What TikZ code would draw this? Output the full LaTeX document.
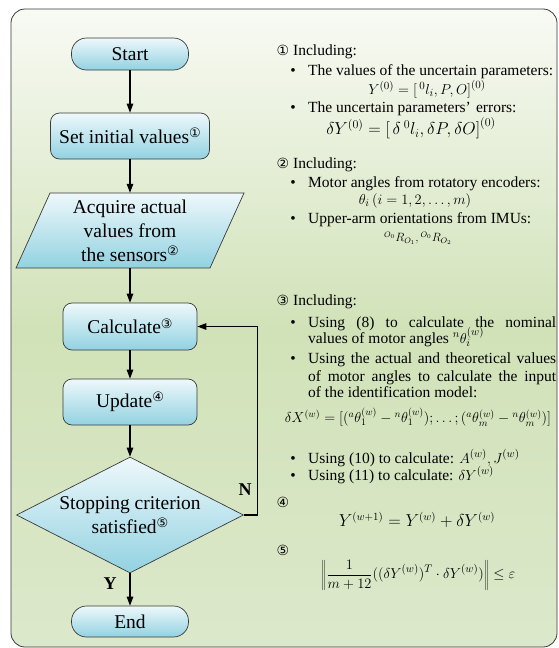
\documentclass[tikz,border=0pt]{standalone}
\usepackage{fontspec}
\setmainfont{Liberation Serif}
\newfontfamily\cfont{DejaVu Sans}
\usetikzlibrary{shapes.geometric,arrows.meta}
\definecolor{bgtop}{HTML}{F8FAF4}
\definecolor{bgmid}{HTML}{D1E2B8}
\definecolor{bgbot}{HTML}{DCE8CB}
\definecolor{ctop}{HTML}{EEF8FB}
\definecolor{cbot}{HTML}{92D2E1}
\definecolor{bordc}{HTML}{3A3A3A}
\newcommand\cnum[1]{\raisebox{5.5pt}{\cfont\fontsize{13}{13}\selectfont #1}}
\newcommand\mainfs{\fontsize{19.5}{24}\selectfont}
\newcommand\rfs{\fontsize{15.5}{18}\selectfont}
\begin{document}
\begin{tikzpicture}[x=1pt,y=-1pt,
  box/.style={draw=bordc, line width=0.7pt, top color=ctop, bottom color=cbot, font=\mainfs, align=center, inner sep=0pt},
  shp/.style={draw=bordc, line width=0.7pt, top color=ctop, bottom color=cbot},
  arr/.style={-{Triangle[length=9pt,width=6.5pt]}, line width=1.2pt},
  txt/.style={anchor=base west, inner sep=0pt, font=\rfs},
  bul/.style={anchor=base, inner sep=0pt, font=\rfs},
  cn/.style={anchor=center, inner sep=0pt, font=\cfont\fontsize{14}{14}\selectfont},
  eq/.style={anchor=center, inner sep=0pt},
  lbl/.style={inner sep=0pt, font=\bfseries\fontsize{18}{18}\selectfont},
]
\useasboundingbox (0,0) rectangle (558,648);
\shade[draw=bordc, line width=0.8pt, rounded corners=14pt, top color=bgtop, bottom color=bgbot, middle color=bgmid] (11,9) rectangle (557,647);

% flowchart
\node[box, rounded corners=15pt, minimum width=117pt, minimum height=32pt] (start) at (130,54) {Start};
\node[box, rounded corners=9pt, minimum width=159pt, minimum height=46pt] (init) at (130,136) {Set initial values\cnum{①}};
\shade[shp] (16,268) -- (210,268) -- (244,193) -- (50,193) -- cycle;
\node[font=\mainfs, align=center, inner sep=0pt, minimum width=150pt, minimum height=75pt] (acq) at (130,230.5) {Acquire actual\\values from\\the sensors\cnum{②}};
\node[box, rounded corners=9pt, minimum width=134pt, minimum height=47pt] (calc) at (130,326.5) {Calculate\cnum{③}};
\node[box, rounded corners=9pt, minimum width=134pt, minimum height=46pt] (upd) at (130,402) {Update\cnum{④}};
\node[box, diamond, minimum width=227pt, minimum height=116pt,
  label={[font=\mainfs, align=center, inner sep=0pt]center:Stopping criterion\\satisfied\cnum{⑤}}] (dec) at (130,515) {};
\node[box, rounded corners=15pt, minimum width=117pt, minimum height=31pt] (end) at (130,621.5) {End};

\draw[arr] (start) -- (init);
\draw[arr] (init) -- (acq);
\draw[arr] (acq) -- (calc);
\draw[arr] (calc) -- (upd);
\draw[arr] (upd) -- (dec);
\draw[arr] (dec) -- (end);
\draw[arr] (dec.east) -- ++(14,0) |- (calc.east);
\node[lbl] (ylab) at (110,584) {Y};
\node[lbl] (nlab) at (245,490) {N};

% right side notes
\node[cn] (c1) at (283,50) {①};
\node[txt] (i1) at (293,55) {Including:};
\node[bul] (b11) at (293,75) {\textbullet};
\node[txt] (t11) at (308,75) {The values of the uncertain parameters:};
\node[eq, font=\fontsize{15}{17}\selectfont] (e11) at (427,89) {$Y^{(0)}=\bigl[\,{}^{0}l_i,P,O\bigr]^{(0)}$};
\node[bul] (b12) at (293,112) {\textbullet};
\node[txt] (t12) at (308,112) {The uncertain parameters’\,\,errors:};
\node[eq, font=\fontsize{18}{20}\selectfont] (e12) at (411,128) {$\delta Y^{(0)}=\bigl[\,\delta\,{}^{0}l_i,\delta P,\delta O\bigr]^{(0)}$};

\node[cn] (c2) at (283,163) {②};
\node[txt] (i2) at (293,168) {Including:};
\node[bul] (b21) at (293,187) {\textbullet};
\node[txt] (t21) at (308,187) {Motor angles from rotatory encoders:};
\node[eq, font=\fontsize{15}{17}\selectfont] (e21) at (415,201) {$\theta_i\,(i=1,2,\ldots,m)$};
\node[bul] (b22) at (293,223) {\textbullet};
\node[txt] (t22) at (308,223) {Upper-arm orientations from IMUs:};
\node[eq, font=\fontsize{11.5}{14}\selectfont] (e22) at (418,238) {${}^{O_0}R_{O_1},{}^{O_0}R_{O_2}$};

\node[cn] (c3) at (283,300) {③};
\node[txt] (i3) at (293,305) {Including:};
\node[bul] (b31) at (293,327) {\textbullet};
\node[txt] (t31) at (308,327) {\makebox[248pt][s]{Using (8) to calculate the nominal}};
\node[txt] (t32) at (308,343) {values of motor angles $^{n}\theta_i^{(w)}$};
\node[bul] (b32) at (293,363) {\textbullet};
\node[txt] (t33) at (308,363) {\makebox[248pt][s]{Using the actual and theoretical values}};
\node[txt] (t34) at (308,381) {\makebox[248pt][s]{of motor angles to calculate the input}};
\node[txt] (t35) at (308,397) {of the identification model:};
\node[eq, font=\fontsize{14.5}{17}\selectfont] (e31) at (418,417) {$\delta X^{(w)}=\Bigl[\Bigl({}^{a}\theta_1^{(w)}-{}^{n}\theta_1^{(w)}\Bigr);\ldots;\Bigl({}^{a}\theta_m^{(w)}-{}^{n}\theta_m^{(w)}\Bigr)\Bigr]$};
\node[bul] (b33) at (293,463) {\textbullet};
\node[txt] (t36) at (308,463) {Using (10) to calculate: $A^{(w)},J^{(w)}$};
\node[bul] (b34) at (293,480) {\textbullet};
\node[txt] (t37) at (308,480) {Using (11) to calculate: $\delta Y^{(w)}$};

\node[cn] (c4) at (283,502) {④};
\node[eq, font=\fontsize{16}{18}\selectfont] (e41) at (417,520) {$Y^{(w+1)}=Y^{(w)}+\delta Y^{(w)}$};
\node[cn] (c5) at (283,550) {⑤};
\node[eq, font=\fontsize{15}{17}\selectfont] (e51) at (418,575) {$\left\|\displaystyle\frac{1}{m+12}\Bigl(\bigl(\delta Y^{(w)}\bigr)^{T}\cdot\delta Y^{(w)}\Bigr)\right\|\le\varepsilon$};
\end{tikzpicture}
\end{document}
